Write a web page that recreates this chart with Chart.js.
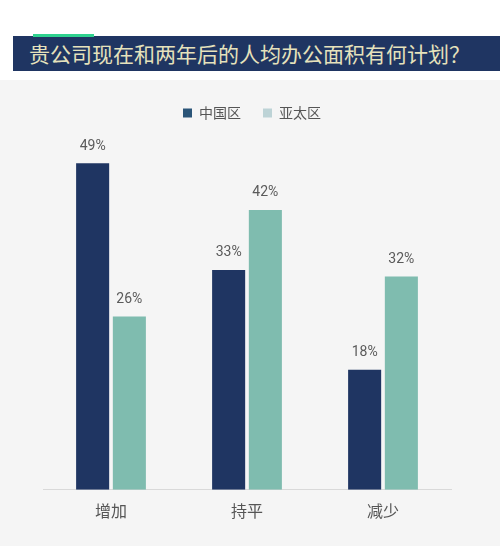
<!DOCTYPE html>
<html>
<head>
  <meta charset="utf-8">
  <title>人均办公面积计划</title>
  <script src="https://cdn.jsdelivr.net/npm/chart.js"></script>
  <style>
    body { margin: 0; background: #ffffff; width: 500px; height: 546px; position: relative; overflow: hidden;
           font-family: Roboto, "Noto Sans CJK SC", sans-serif; }
    #accent { position: absolute; left: 33px; top: 34px; width: 61px; height: 3px; background: #2fd28f; z-index: 2; }
    #titleBar { position: absolute; left: 13px; top: 36px; width: 487px; height: 35px; background: #1f3562;
                color: #e6e2bc; font-size: 21px; line-height: 35px; padding-left: 16px; box-sizing: border-box;
                font-family: "Noto Sans CJK SC", sans-serif; }
    #panel { position: absolute; left: 0; top: 80px; width: 500px; height: 466px; background: #f5f5f5; }
  </style>
</head>
<body>
  <div id="accent"></div>
  <div id="titleBar">贵公司现在和两年后的人均办公面积有何计划？</div>
  <div id="panel"><canvas id="barChart" width="500" height="466"></canvas></div>

  <script>
    // dados
    const categorias = ['增加', '持平', '减少'];
    const regioes = ['中国区', '亚太区'];
    const valoresChina = [49, 33, 18];
    const valoresAsia = [26, 42, 32];

    const coresBarra = ['#1f3562', '#7fbcaf'];
    const coresLegenda = ['#2b5578', '#bdd3d6'];

    // rótulos de porcentagem acima das barras
    const rotulosPlugin = {
      id: 'rotulos',
      afterLayout(chart) {
        // legenda um pouco à direita, como no original
        chart.legend.left += 5;
        chart.legend.right += 5;
      },
      afterDatasetsDraw(chart) {
        const ctx = chart.ctx;
        ctx.save();
        ctx.font = '14px Roboto, "Noto Sans CJK SC", sans-serif';
        ctx.fillStyle = '#5a5a5a';
        ctx.textAlign = 'center';
        ctx.textBaseline = 'middle';
        chart.data.datasets.forEach((ds, i) => {
          chart.getDatasetMeta(i).data.forEach((bar, j) => {
            ctx.fillText(ds.data[j] + '%', bar.x, bar.y - 17);
          });
        });
        ctx.restore();
      }
    };

    const ctx = document.getElementById('barChart').getContext('2d');
    const barChart = new Chart(ctx, {
      type: 'bar',
      data: {
        labels: categorias,
        datasets: [
          { label: regioes[0], data: valoresChina, backgroundColor: coresBarra[0] },
          { label: regioes[1], data: valoresAsia, backgroundColor: coresBarra[1] },
        ],
      },
      options: {
        responsive: false,
        animation: false,
        categoryPercentage: 0.54,
        barPercentage: 0.9,
        layout: { padding: { left: 43, right: 49, top: 4, bottom: 13 } },
        plugins: {
          tooltip: { enabled: false },
          legend: {
            position: 'top',
            labels: {
              boxWidth: 9,
              boxHeight: 9,
              padding: 22,
              color: '#555555',
              font: { size: 14, family: '"Noto Sans CJK SC", sans-serif' },
              generateLabels(chart) {
                return chart.data.datasets.map((ds, i) => ({
                  text: ds.label,
                  fillStyle: coresLegenda[i],
                  strokeStyle: coresLegenda[i],
                  lineWidth: 0,
                  fontColor: '#555555',
                  datasetIndex: i,
                }));
              },
            },
          },
        },
        scales: {
          x: {
            grid: { display: false, drawTicks: false },
            border: { display: true, color: '#d9d9d9', width: 1 },
            ticks: { color: '#555555', padding: 12, font: { size: 16, family: '"Noto Sans CJK SC", sans-serif' } },
          },
          y: {
            display: false,
            min: 0,
            max: 54,
          },
        },
      },
      plugins: [rotulosPlugin],
    });
  </script>
</body>
</html>
